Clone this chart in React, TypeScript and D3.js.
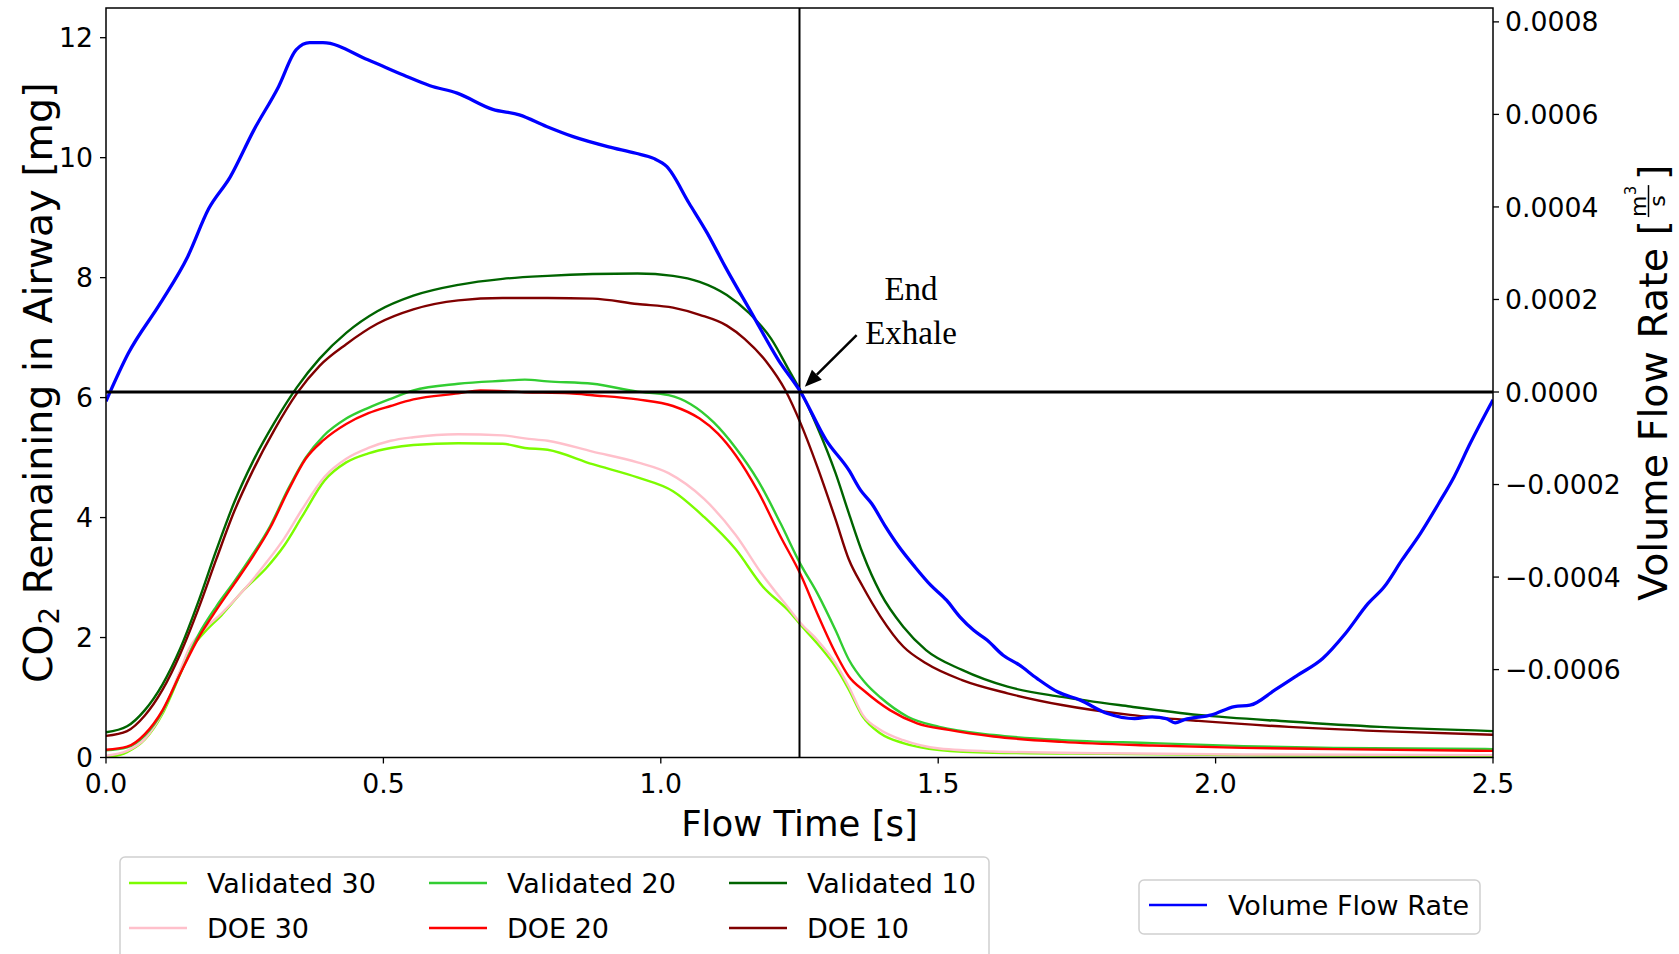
import React from 'react';
import * as d3 from 'd3';

// ---------------- data ----------------
const xTicks = [0, 0.5, 1.0, 1.5, 2.0, 2.5];
const leftTicks = [0, 2, 4, 6, 8, 10, 12];
const rightTicks = [-0.0006, -0.0004, -0.0002, 0, 0.0002, 0.0004, 0.0006, 0.0008];

type P = [number, number];

const validated30: P[] = [[0,0.0],[0.038,0.09],[0.07,0.30],[0.102,0.73],[0.134,1.40],[0.15,1.76],[0.176,2.07],[0.208,2.37],[0.249,2.80],[0.289,3.16],[0.321,3.53],[0.353,4.01],[0.394,4.62],[0.433,4.92],[0.473,5.07],[0.513,5.16],[0.554,5.21],[0.635,5.24],[0.715,5.23],[0.755,5.16],[0.796,5.13],[0.877,4.89],[0.958,4.67],[1.022,4.44],[1.078,4.01],[1.135,3.47],[1.183,2.86],[1.233,2.42],[1.253,2.20],[1.282,1.90],[1.315,1.51],[1.339,1.13],[1.364,0.68],[1.396,0.40],[1.437,0.24],[1.502,0.125],[1.6,0.08],[1.805,0.06],[2.05,0.04],[2.5,0.025]];
const doe30: P[] = [[0,0.03],[0.038,0.11],[0.07,0.31],[0.102,0.76],[0.134,1.46],[0.15,1.82],[0.176,2.13],[0.208,2.40],[0.249,2.80],[0.289,3.25],[0.321,3.65],[0.353,4.13],[0.394,4.68],[0.433,4.98],[0.473,5.16],[0.513,5.28],[0.554,5.34],[0.635,5.39],[0.715,5.37],[0.755,5.32],[0.796,5.28],[0.877,5.10],[0.958,4.92],[1.014,4.74],[1.078,4.31],[1.135,3.71],[1.183,3.05],[1.233,2.46],[1.253,2.23],[1.282,1.96],[1.315,1.57],[1.339,1.18],[1.364,0.71],[1.396,0.46],[1.437,0.29],[1.502,0.15],[1.6,0.10],[1.805,0.07],[2.05,0.05],[2.5,0.04]];
const validated20: P[] = [[0,0.12],[0.038,0.17],[0.07,0.37],[0.102,0.77],[0.134,1.40],[0.167,2.05],[0.199,2.52],[0.231,2.93],[0.264,3.38],[0.296,3.86],[0.328,4.47],[0.36,5.0],[0.392,5.36],[0.433,5.65],[0.473,5.83],[0.513,5.98],[0.554,6.12],[0.635,6.23],[0.715,6.28],[0.755,6.30],[0.796,6.27],[0.877,6.23],[0.958,6.10],[1.014,6.04],[1.054,5.89],[1.095,5.59],[1.135,5.16],[1.175,4.62],[1.216,3.90],[1.252,3.22],[1.282,2.74],[1.315,2.12],[1.339,1.63],[1.368,1.25],[1.396,1.0],[1.445,0.68],[1.502,0.51],[1.6,0.375],[1.723,0.29],[1.886,0.24],[2.05,0.19],[2.213,0.16],[2.5,0.14]];
const doe20: P[] = [[0,0.13],[0.038,0.18],[0.07,0.39],[0.102,0.79],[0.134,1.40],[0.167,2.0],[0.199,2.46],[0.231,2.89],[0.264,3.34],[0.296,3.83],[0.328,4.44],[0.36,4.98],[0.392,5.29],[0.433,5.56],[0.473,5.74],[0.513,5.86],[0.554,5.97],[0.635,6.07],[0.675,6.12],[0.755,6.09],[0.836,6.07],[0.877,6.04],[0.958,5.97],[1.022,5.86],[1.07,5.65],[1.103,5.40],[1.135,5.04],[1.175,4.44],[1.216,3.68],[1.252,3.05],[1.282,2.40],[1.315,1.74],[1.339,1.35],[1.368,1.10],[1.413,0.79],[1.462,0.57],[1.519,0.46],[1.6,0.35],[1.723,0.26],[1.886,0.20],[2.05,0.16],[2.213,0.14],[2.5,0.11]];
const validated10: P[] = [[0,0.42],[0.038,0.52],[0.07,0.79],[0.102,1.22],[0.134,1.82],[0.167,2.61],[0.199,3.46],[0.231,4.25],[0.264,4.92],[0.304,5.59],[0.344,6.17],[0.385,6.65],[0.433,7.08],[0.489,7.44],[0.554,7.70],[0.635,7.88],[0.715,7.98],[0.796,8.03],[0.877,8.06],[0.958,8.07],[1.022,8.03],[1.07,7.93],[1.119,7.71],[1.159,7.41],[1.199,6.98],[1.232,6.44],[1.253,6.09],[1.282,5.51],[1.315,4.74],[1.339,4.07],[1.364,3.40],[1.396,2.74],[1.437,2.18],[1.478,1.79],[1.543,1.46],[1.625,1.18],[1.723,1.01],[1.846,0.85],[1.969,0.71],[2.132,0.60],[2.296,0.51],[2.5,0.44]];
const doe10: P[] = [[0,0.36],[0.038,0.44],[0.07,0.70],[0.102,1.13],[0.134,1.73],[0.167,2.49],[0.199,3.31],[0.231,4.10],[0.264,4.77],[0.304,5.47],[0.344,6.07],[0.385,6.53],[0.433,6.89],[0.489,7.23],[0.554,7.47],[0.635,7.62],[0.715,7.66],[0.796,7.66],[0.877,7.65],[0.958,7.56],[1.022,7.50],[1.07,7.38],[1.119,7.20],[1.151,6.98],[1.191,6.59],[1.224,6.13],[1.252,5.57],[1.282,4.85],[1.315,3.97],[1.339,3.30],[1.364,2.85],[1.396,2.35],[1.437,1.85],[1.478,1.57],[1.543,1.29],[1.625,1.07],[1.723,0.875],[1.846,0.71],[1.969,0.61],[2.132,0.51],[2.296,0.44],[2.5,0.38]];
const flowRate: P[] = [[0,-0.00002],[0.04,0.000083],[0.098,0.000192],[0.147,0.000292],[0.185,0.000396],[0.224,0.000465],[0.266,0.000565],[0.311,0.00066],[0.343,0.00074],[0.367,0.000755],[0.391,0.000755],[0.472,0.000718],[0.536,0.000685],[0.584,0.000662],[0.633,0.000646],[0.697,0.000611],[0.745,0.000599],[0.794,0.000574],[0.842,0.000552],[0.906,0.00053],[0.955,0.000516],[0.987,0.000505],[1.011,0.000487],[1.051,0.000408],[1.084,0.000343],[1.116,0.000271],[1.164,0.00017],[1.212,0.000069],[1.252,0],[1.298,-0.000104],[1.339,-0.000169],[1.36,-0.000212],[1.38,-0.000241],[1.405,-0.000291],[1.429,-0.000334],[1.458,-0.000378],[1.486,-0.000417],[1.515,-0.00045],[1.539,-0.000486],[1.564,-0.000515],[1.588,-0.000536],[1.617,-0.000569],[1.646,-0.00059],[1.678,-0.000619],[1.715,-0.000648],[1.756,-0.000666],[1.805,-0.000695],[1.854,-0.000706],[1.886,-0.000702],[1.911,-0.000706],[1.927,-0.000715],[1.944,-0.000708],[1.993,-0.000698],[2.034,-0.00068],[2.062,-0.000677],[2.107,-0.000644],[2.148,-0.000612],[2.193,-0.000576],[2.234,-0.000522],[2.275,-0.000457],[2.304,-0.000421],[2.336,-0.000363],[2.369,-0.000306],[2.402,-0.000241],[2.43,-0.000183],[2.459,-0.000111],[2.5,-0.000017]];

const endExhaleTime = 1.25;
const annotationText = ['End', 'Exhale'];
const annotationTextX = 1.451;
const arrowTail: P = [1.353, 0.000123];

const co2Series = [
  { name: 'Validated 30', color: '#7CFC00', data: validated30 },
  { name: 'DOE 30', color: '#FFC0CB', data: doe30 },
  { name: 'Validated 20', color: '#32CD32', data: validated20 },
  { name: 'DOE 20', color: '#FF0000', data: doe20 },
  { name: 'Validated 10', color: '#006400', data: validated10 },
  { name: 'DOE 10', color: '#800000', data: doe10 },
];

// ---------------- layout ----------------
const W = 1679, H = 954;
const L = 106, R = 1493, T = 8, B = 757.5;
const FONT = '"DejaVu Sans", sans-serif';

let _ctx: CanvasRenderingContext2D | null = null;
function measure(text: string, size: number, family = 'DejaVu Sans') {
  if (!_ctx) _ctx = document.createElement('canvas').getContext('2d');
  if (!_ctx) return text.length * size * 0.6;
  _ctx.font = `${size}px "${family}"`;
  return _ctx.measureText(text).width;
}

const fmtRight = (v: number) => {
  const s = Math.abs(v).toFixed(4);
  return v < -1e-12 ? '\u2212' + s : s;
};

export default function App() {
  const x = d3.scaleLinear().domain([0, 2.5]).range([L, R]);
  const yL = d3.scaleLinear().domain([0, 12.495]).range([B, T]);
  const yR = d3.scaleLinear().domain([-0.00079, 0.00083]).range([B, T]);

  const lineL = d3.line<P>().x(d => x(d[0])).y(d => yL(d[1])).curve(d3.curveMonotoneX);
  const lineR = d3.line<P>().x(d => x(d[0])).y(d => yR(d[1])).curve(d3.curveMonotoneX);

  const tickFs = 26.7;
  const legFs = 27;

  // right label pieces (local rotated frame; baseline at y=0)
  const rFs = 39.5, fracFs = 22, supFs = 15;
  const mainTxt = 'Volume Flow Rate [';
  const wMain = measure(mainTxt, rFs);
  const wM = measure('m', fracFs);
  const wSup = measure('3', supFs);
  const wFrac = wM + wSup + 1;
  const wClose = measure(']', rFs);
  const total = wMain + 3 + wFrac + 5 + wClose;
  const sx = -total / 2;
  const fracX = sx + wMain + 3;
  const closeX = fracX + wFrac + 5;

  // arrow
  const tip0: P = [x(endExhaleTime), yR(0)];
  const tail: P = [x(arrowTail[0]), yR(arrowTail[1])];
  const dx = tip0[0] - tail[0], dy = tip0[1] - tail[1];
  const len = Math.hypot(dx, dy);
  const ux = dx / len, uy = dy / len;
  const tip: P = [tip0[0] - ux * 7.5, tip0[1] - uy * 7.5];
  const headL = 17, headW = 7;
  const base: P = [tip[0] - ux * headL, tip[1] - uy * headL];
  const nx = -uy, ny = ux;
  const headPts = [tip, [base[0] + nx * headW, base[1] + ny * headW], [base[0] - nx * headW, base[1] - ny * headW]]
    .map(p => p.join(',')).join(' ');

  const legCols = [129, 429, 729];
  const legRows = [883, 928];

  return (
    <svg width={W} height={H} style={{ position: 'absolute', left: 0, top: 0, display: 'block', background: '#fff' }}
      fontFamily={FONT}>
      <defs>
        <clipPath id="plotclip"><rect x={L} y={T} width={R - L} height={B - T} /></clipPath>
      </defs>
      <rect x={0} y={0} width={W} height={H} fill="#fff" />

      <g clipPath="url(#plotclip)">
        {co2Series.map(s => (
          <path key={s.name} d={lineL(s.data) || ''} fill="none" stroke={s.color} strokeWidth={2.4} strokeLinejoin="round" />
        ))}
        <line x1={x(endExhaleTime)} x2={x(endExhaleTime)} y1={T} y2={B} stroke="#000" strokeWidth={2} />
        <path d={lineR(flowRate) || ''} fill="none" stroke="#0000FF" strokeWidth={3.3} strokeLinejoin="round" />
        <line x1={L} x2={R} y1={yR(0)} y2={yR(0)} stroke="#000" strokeWidth={3} />
      </g>

      {/* frame */}
      <rect x={L} y={T} width={R - L} height={B - T} fill="none" stroke="#000" strokeWidth={1.5} />

      {/* x ticks */}
      {xTicks.map(t => (
        <g key={'x' + t}>
          <line x1={x(t)} x2={x(t)} y1={B} y2={B + 6} stroke="#000" strokeWidth={1.3} />
          <text x={x(t)} y={B + 35.5} textAnchor="middle" fontSize={tickFs}>{t.toFixed(1)}</text>
        </g>
      ))}
      {/* left ticks */}
      {leftTicks.map(t => (
        <g key={'l' + t}>
          <line x1={L - 6} x2={L} y1={yL(t)} y2={yL(t)} stroke="#000" strokeWidth={1.3} />
          <text x={L - 13} y={yL(t)} dy="0.36em" textAnchor="end" fontSize={tickFs}>{t}</text>
        </g>
      ))}
      {/* right ticks */}
      {rightTicks.map(t => (
        <g key={'r' + t}>
          <line x1={R} x2={R + 6} y1={yR(t)} y2={yR(t)} stroke="#000" strokeWidth={1.3} />
          <text x={R + 12} y={yR(t)} dy="0.36em" textAnchor="start" fontSize={tickFs}>{fmtRight(t)}</text>
        </g>
      ))}

      {/* axis labels */}
      <text x={(L + R) / 2} y={836} textAnchor="middle" fontSize={35.5}>Flow Time [s]</text>
      <text transform={`translate(52,${(T + B) / 2}) rotate(-90)`} textAnchor="middle" fontSize={39.5}>
        CO<tspan fontSize={27.5} dy={7}>2</tspan><tspan dy={-7}> Remaining in Airway [mg]</tspan>
      </text>
      <g transform={`translate(1667,${(T + B) / 2}) rotate(-90)`} fontSize={rFs}>
        <text x={sx} y={0}>{mainTxt}</text>
        <text x={fracX} y={-21.5} fontSize={fracFs}>m</text>
        <text x={fracX + wM + 0.5} y={-31} fontSize={supFs}>3</text>
        <line x1={fracX} x2={fracX + wFrac} y1={-18.5} y2={-18.5} stroke="#000" strokeWidth={1.5} />
        <text x={fracX + wFrac / 2} y={-2.5} fontSize={fracFs} textAnchor="middle">s</text>
        <text x={closeX} y={0}>]</text>
      </g>

      {/* annotation */}
      <text x={x(annotationTextX)} y={300} textAnchor="middle" fontSize={33} fontFamily='"Liberation Serif", serif'>{annotationText[0]}</text>
      <text x={x(annotationTextX)} y={344} textAnchor="middle" fontSize={33} fontFamily='"Liberation Serif", serif'>{annotationText[1]}</text>
      <line x1={tail[0]} y1={tail[1]} x2={base[0]} y2={base[1]} stroke="#000" strokeWidth={2.5} />
      <polygon points={headPts} fill="#000" />

      {/* legend 1 */}
      <rect x={120} y={857} width={869} height={120} rx={5} fill="#fff" stroke="#d0d0d0" strokeWidth={1.5} />
      {co2Series.map((s, i) => {
        const cx = legCols[Math.floor(i / 2)];
        const cy = legRows[i % 2];
        return (
          <g key={'leg' + s.name}>
            <line x1={cx} x2={cx + 58} y1={cy} y2={cy} stroke={s.color} strokeWidth={2.6} />
            <text x={cx + 78} y={cy} dy="0.36em" fontSize={legFs}>{s.name}</text>
          </g>
        );
      })}

      {/* legend 2 */}
      <rect x={1139} y={880} width={341} height={54} rx={5} fill="#fff" stroke="#d0d0d0" strokeWidth={1.5} />
      <line x1={1149} x2={1207} y1={905} y2={905} stroke="#0000FF" strokeWidth={2.6} />
      <text x={1228} y={905} dy="0.36em" fontSize={legFs}>Volume Flow Rate</text>
    </svg>
  );
}
